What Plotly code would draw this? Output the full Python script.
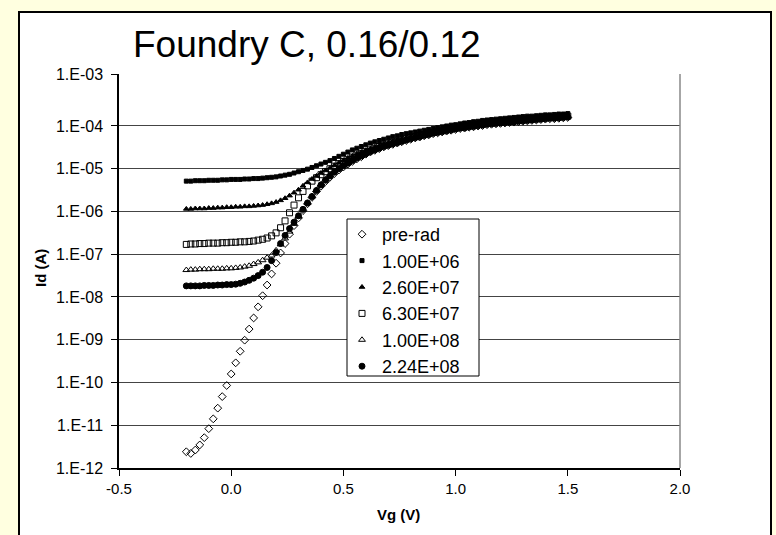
import plotly.graph_objects as go

# Gate voltage sweep (V)
vg = [-0.20, -0.18, -0.16, -0.14, -0.12, -0.10, -0.08, -0.06, -0.04, -0.02,
      0.00, 0.02, 0.04, 0.06, 0.08, 0.10, 0.12, 0.14, 0.16, 0.18,
      0.20, 0.22, 0.24, 0.26, 0.28, 0.30, 0.32, 0.34, 0.36, 0.38,
      0.40, 0.42, 0.44, 0.46, 0.48, 0.50, 0.52, 0.54, 0.56, 0.58,
      0.60, 0.62, 0.64, 0.66, 0.68, 0.70, 0.72, 0.74, 0.76, 0.78,
      0.80, 0.82, 0.84, 0.86, 0.88, 0.90, 0.92, 0.94, 0.96, 0.98,
      1.00, 1.02, 1.04, 1.06, 1.08, 1.10, 1.12, 1.14, 1.16, 1.18,
      1.20, 1.22, 1.24, 1.26, 1.28, 1.30, 1.32, 1.34, 1.36, 1.38,
      1.40, 1.42, 1.44, 1.46, 1.48, 1.50]

# log10(Id [A]), one list per dose
log_id_prerad = [-11.62, -11.66, -11.58, -11.46, -11.29, -11.08, -10.85, -10.60, -10.33, -10.07,
                 -9.80, -9.54, -9.27, -9.01, -8.75, -8.49, -8.23, -7.97, -7.72, -7.46,
                 -7.21, -6.97, -6.75, -6.53, -6.33, -6.15, -5.98, -5.82, -5.67, -5.53,
                 -5.41, -5.30, -5.20, -5.11, -5.03, -4.96, -4.89, -4.83, -4.77, -4.72,
                 -4.66, -4.61, -4.57, -4.53, -4.49, -4.46, -4.43, -4.40, -4.37, -4.34,
                 -4.31, -4.28, -4.26, -4.23, -4.21, -4.18, -4.16, -4.14, -4.12, -4.10,
                 -4.08, -4.06, -4.05, -4.03, -4.02, -4.00, -3.99, -3.97, -3.96, -3.95,
                 -3.94, -3.93, -3.92, -3.91, -3.90, -3.89, -3.88, -3.87, -3.86, -3.85,
                 -3.84, -3.83, -3.83, -3.82, -3.81, -3.80]

log_id_1e6 = [-5.29, -5.29, -5.28, -5.28, -5.28, -5.27, -5.27, -5.27, -5.26, -5.26,
              -5.25, -5.25, -5.25, -5.24, -5.24, -5.23, -5.23, -5.22, -5.21, -5.20,
              -5.19, -5.17, -5.15, -5.13, -5.10, -5.07, -5.04, -5.01, -4.97, -4.93,
              -4.89, -4.85, -4.81, -4.76, -4.71, -4.66, -4.61, -4.56, -4.52, -4.48,
              -4.44, -4.40, -4.37, -4.34, -4.31, -4.28, -4.25, -4.23, -4.20, -4.18,
              -4.16, -4.14, -4.12, -4.10, -4.08, -4.06, -4.04, -4.02, -4.00, -3.98,
              -3.97, -3.95, -3.93, -3.92, -3.90, -3.89, -3.87, -3.86, -3.85, -3.84,
              -3.83, -3.82, -3.81, -3.80, -3.79, -3.78, -3.77, -3.77, -3.76, -3.75,
              -3.74, -3.74, -3.73, -3.72, -3.72, -3.71]

log_id_26e7 = [-5.94, -5.94, -5.93, -5.93, -5.93, -5.92, -5.92, -5.91, -5.91, -5.90,
               -5.90, -5.89, -5.89, -5.88, -5.88, -5.87, -5.86, -5.85, -5.83, -5.81,
               -5.78, -5.74, -5.69, -5.63, -5.56, -5.49, -5.40, -5.32, -5.24, -5.17,
               -5.10, -5.04, -4.98, -4.92, -4.86, -4.80, -4.75, -4.70, -4.65, -4.61,
               -4.57, -4.53, -4.49, -4.46, -4.42, -4.39, -4.36, -4.33, -4.30, -4.28,
               -4.25, -4.23, -4.20, -4.18, -4.16, -4.13, -4.11, -4.09, -4.07, -4.05,
               -4.03, -4.02, -4.00, -3.99, -3.97, -3.96, -3.94, -3.93, -3.92, -3.91,
               -3.89, -3.88, -3.87, -3.86, -3.85, -3.84, -3.83, -3.82, -3.82, -3.81,
               -3.80, -3.79, -3.78, -3.78, -3.77, -3.76]

log_id_63e7 = [-6.77, -6.76, -6.76, -6.75, -6.75, -6.74, -6.74, -6.74, -6.73, -6.73,
               -6.72, -6.72, -6.71, -6.71, -6.70, -6.69, -6.67, -6.65, -6.62, -6.57,
               -6.50, -6.38, -6.22, -6.03, -5.85, -5.68, -5.53, -5.40, -5.29, -5.21,
               -5.14, -5.07, -5.00, -4.94, -4.88, -4.83, -4.78, -4.73, -4.68, -4.64,
               -4.60, -4.56, -4.52, -4.48, -4.45, -4.42, -4.39, -4.36, -4.33, -4.30,
               -4.27, -4.25, -4.22, -4.20, -4.17, -4.15, -4.13, -4.11, -4.09, -4.07,
               -4.05, -4.03, -4.02, -4.00, -3.99, -3.97, -3.96, -3.94, -3.93, -3.92,
               -3.91, -3.90, -3.89, -3.88, -3.87, -3.86, -3.85, -3.84, -3.83, -3.82,
               -3.81, -3.80, -3.80, -3.79, -3.78, -3.77]

log_id_1e8 = [-7.37, -7.36, -7.36, -7.35, -7.35, -7.35, -7.34, -7.34, -7.34, -7.33,
              -7.33, -7.32, -7.31, -7.29, -7.27, -7.23, -7.19, -7.14, -7.08, -7.03,
              -6.91, -6.77, -6.63, -6.47, -6.29, -6.12, -5.96, -5.80, -5.65, -5.50,
              -5.37, -5.25, -5.14, -5.05, -4.97, -4.90, -4.84, -4.78, -4.73, -4.68,
              -4.63, -4.59, -4.55, -4.51, -4.47, -4.44, -4.41, -4.38, -4.35, -4.32,
              -4.29, -4.26, -4.24, -4.21, -4.19, -4.16, -4.14, -4.12, -4.10, -4.08,
              -4.06, -4.04, -4.03, -4.01, -4.00, -3.98, -3.97, -3.95, -3.94, -3.93,
              -3.92, -3.91, -3.90, -3.89, -3.88, -3.87, -3.86, -3.85, -3.84, -3.83,
              -3.82, -3.81, -3.81, -3.80, -3.79, -3.78]

log_id_224e8 = [-7.74, -7.74, -7.74, -7.74, -7.73, -7.73, -7.73, -7.72, -7.72, -7.71,
                -7.71, -7.70, -7.68, -7.65, -7.61, -7.56, -7.50, -7.42, -7.31, -7.15,
                -6.96, -6.75, -6.56, -6.40, -6.25, -6.10, -5.95, -5.80, -5.65, -5.51,
                -5.38, -5.27, -5.17, -5.08, -5.00, -4.93, -4.87, -4.81, -4.75, -4.70,
                -4.65, -4.60, -4.56, -4.52, -4.48, -4.45, -4.42, -4.39, -4.36, -4.33,
                -4.30, -4.27, -4.25, -4.22, -4.20, -4.17, -4.15, -4.13, -4.11, -4.09,
                -4.07, -4.05, -4.04, -4.02, -4.01, -3.99, -3.98, -3.96, -3.95, -3.94,
                -3.93, -3.92, -3.91, -3.90, -3.89, -3.88, -3.87, -3.86, -3.85, -3.84,
                -3.83, -3.82, -3.82, -3.81, -3.80, -3.79]

series_names = ["pre-rad", "1.00E+06", "2.60E+07", "6.30E+07", "1.00E+08", "2.24E+08"]
series_logs = [log_id_prerad, log_id_1e6, log_id_26e7, log_id_63e7, log_id_1e8, log_id_224e8]

# y tick labels (top label sits at the top edge of the plot frame, as in the picture)
ytick_labels = ["1.E-03", "1.E-04", "1.E-05", "1.E-06", "1.E-07", "1.E-08",
                "1.E-09", "1.E-10", "1.E-11", "1.E-12"]
ytick_logs = [-2.784, -4, -5, -6, -7, -8, -9, -10, -11, -12]
xtick_vals = [-0.5, 0.0, 0.5, 1.0, 1.5, 2.0]
xtick_labels = ["-0.5", "0.0", "0.5", "1.0", "1.5", "2.0"]

symbols = ["diamond-open", "square", "triangle-up", "square-open", "triangle-up-open", "circle"]
sizes = [6, 4, 5, 6, 6, 6]

FONT = "Arial, 'Liberation Sans', sans-serif"

fig = go.Figure()
for i, (name, logs) in enumerate(zip(series_names, series_logs)):
    fig.add_trace(go.Scatter(
        x=vg, y=[10 ** v for v in logs], name=name, mode="markers",
        legendgroup=name,
        marker=dict(symbol=symbols[i], size=sizes[i], color="black",
                    line=dict(color="black", width=1)),
    ))

L, R, T, B = 119, 96, 74, 67
W, H = 776, 535
pw, ph = W - L - R, H - T - B

def px(xp):
    return (xp - L) / pw

def py(yp):
    return (H - B - yp) / ph

fig.update_layout(
    width=W, height=H,
    margin=dict(l=L, r=R, t=T, b=B),
    paper_bgcolor="#FFFFE0",
    plot_bgcolor="white",
    font=dict(family=FONT, color="black", size=14),
    showlegend=True,
    legend=dict(
        x=px(342), y=py(216), xanchor="left", yanchor="top",
        bgcolor="rgba(0,0,0,0)", borderwidth=0,
        font=dict(family=FONT, size=18, color="black"),
        tracegroupgap=0, itemsizing="trace", itemwidth=30,
    ),
    shapes=[
        dict(type="rect", xref="paper", yref="paper",
             x0=px(19), x1=px(771), y0=py(545), y1=py(12),
             fillcolor="white", line=dict(color="black", width=2), layer="below"),
        dict(type="line", xref="paper", yref="paper",
             x0=1, x1=1, y0=0, y1=1, line=dict(color="#888888", width=1.5)),
        # legend frame
        dict(type="rect", xref="paper", yref="paper",
             x0=px(347), x1=px(479), y0=py(376), y1=py(219),
             fillcolor="white", line=dict(color="black", width=1), layer="above"),
    ],
    annotations=[
        dict(text="Foundry C, 0.16/0.12", xref="paper", yref="paper",
             x=px(307), y=py(45), xanchor="center", yanchor="middle", showarrow=False,
             font=dict(family=FONT, size=37, color="black")),
        dict(text="<b>Id (A)</b>", xref="paper", yref="paper",
             x=px(40), y=py(268), xanchor="center", yanchor="middle",
             showarrow=False, textangle=-90,
             font=dict(family=FONT, size=15, color="black")),
        dict(text="<b>Vg (V)</b>", xref="paper", yref="paper",
             x=px(398), y=py(514), xanchor="center", yanchor="middle", showarrow=False,
             font=dict(family=FONT, size=15, color="black")),
    ],
)

fig.update_xaxes(
    range=[-0.5, 2.0], tickvals=xtick_vals, ticktext=xtick_labels,
    showgrid=False, zeroline=False,
    showline=True, linecolor="black", linewidth=1.5,
    ticks="outside", ticklen=6, tickcolor="black", tickwidth=1,
    tickfont=dict(family=FONT, size=15, color="black"),
)
fig.update_yaxes(
    type="log", range=[-12, -2.784],
    tickvals=[10 ** v for v in ytick_logs], ticktext=ytick_labels,
    showgrid=True, gridcolor="#444444", gridwidth=1,
    zeroline=False,
    showline=True, linecolor="black", linewidth=1.5,
    ticks="outside", ticklen=6, tickcolor="black", tickwidth=1,
    ticklabelstandoff=5,
    tickfont=dict(family=FONT, size=16, color="black"),
)

fig.write_html("out.html")
